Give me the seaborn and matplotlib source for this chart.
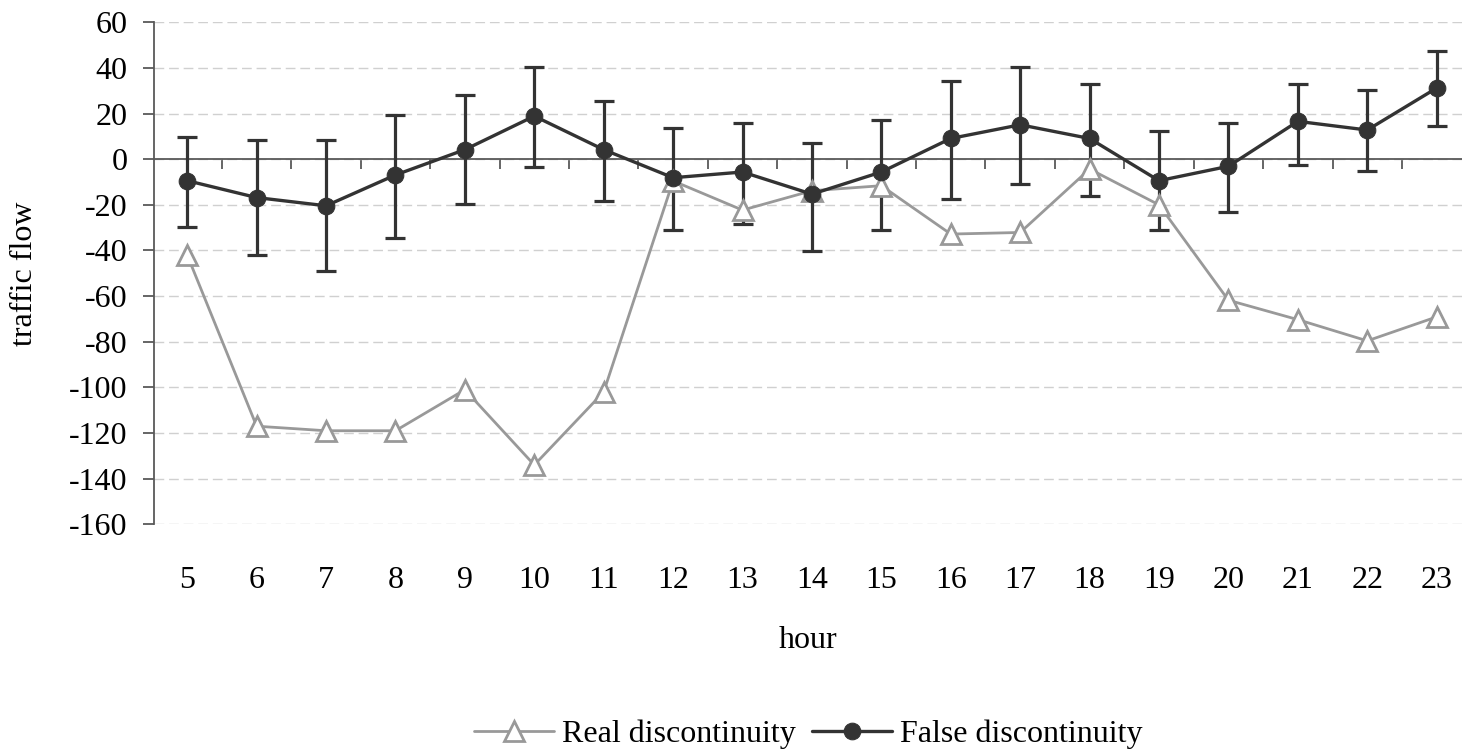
import numpy as np
import pandas as pd
import seaborn as sns
import matplotlib.pyplot as plt

# data
hours = list(range(5, 24))
real_disc = [-42, -117, -119, -119, -101, -134, -102, -9.5, -22.3, -13.8, -11.6,
             -32.8, -32.1, -4.3, -20, -61.8, -70.3, -79.6, -69.1]
false_disc = [-9.4, -16.8, -20.4, -6.9, 4.2, 18.9, 4.2, -8.1, -5.6, -15.3, -5.6,
              9.1, 15.1, 9.1, -9.4, -3.1, 16.6, 12.8, 31.2]
false_hi = [9.7, 8.4, 8.4, 19.5, 28, 40.3, 25.7, 13.5, 15.9, 7.2, 17.2,
            34.3, 40.4, 33, 12.2, 15.9, 33, 30.5, 47.6]
false_lo = [-29.5, -41.8, -49.2, -34.4, -19.5, -3.6, -18.5, -30.8, -28.3, -40.4, -30.8,
            -17.3, -11, -16, -30.8, -23.3, -2.5, -5, 14.6]
y_ticks = list(range(-160, 61, 20))

df = pd.DataFrame({'hour': hours, 'real': real_disc, 'false': false_disc,
                   'hi': false_hi, 'lo': false_lo})

sns.set_theme(style='white')
fs = 23
plt.rcParams['font.family'] = ['Liberation Serif', 'DejaVu Serif']
plt.rcParams.update({'font.size': fs, 'axes.labelsize': fs, 'xtick.labelsize': fs,
                     'ytick.labelsize': fs, 'legend.fontsize': fs,
                     'text.color': 'black', 'axes.labelcolor': 'black',
                     'xtick.color': 'black', 'ytick.color': 'black'})

fig = plt.figure(figsize=(14.62, 7.52), dpi=100)
ax = fig.add_axes([0.1055, 0.3028, 0.8945, 0.6675])

dark = '#333333'
gray = '#999999'
axis_c = '#595959'

# error bars first so the markers sit on top
ax.errorbar(df['hour'], df['false'],
            yerr=[df['false'] - df['lo'], df['hi'] - df['false']],
            fmt='none', ecolor=dark, elinewidth=2.3, capsize=7.5, capthick=2.3, zorder=2)

sns.lineplot(data=df, x='hour', y='real', ax=ax, color=gray, linewidth=2.0,
             marker='^', markersize=14, markerfacecolor='white', markeredgecolor=gray,
             markeredgewidth=2, label='Real discontinuity', zorder=3)
sns.lineplot(data=df, x='hour', y='false', ax=ax, color=dark, linewidth=2.4,
             marker='o', markersize=12, markerfacecolor=dark, markeredgecolor=dark,
             label='False discontinuity', zorder=4)

ax.set_ylim(-160, 60)
ax.set_xlim(hours[0] - 0.475, hours[-1] + 0.365)
ax.set_yticks(y_ticks)
ax.set_yticklabels([str(v) for v in y_ticks])
ax.yaxis.grid(True, linestyle=(0, (7, 3.5)), color='#d0d0d0', linewidth=1.0)
ax.set_axisbelow(True)

for s in ['top', 'right']:
    ax.spines[s].set_visible(False)
ax.spines['left'].set_color(axis_c)
ax.spines['left'].set_linewidth(1.3)
ax.spines['bottom'].set_position(('data', 0))
ax.spines['bottom'].set_color(axis_c)
ax.spines['bottom'].set_linewidth(1.3)
ax.spines['bottom'].set_zorder(1.5)

ax.tick_params(axis='y', direction='out', length=8, width=1.3, color=axis_c, pad=11,
               left=True, labelcolor='black')
ax.set_xticks(hours)
ax.set_xticks([h + 0.5 for h in hours[:-1]], minor=True)
ax.tick_params(axis='x', which='major', length=0, labelbottom=False)
ax.tick_params(axis='x', which='minor', direction='out', length=7.5, width=1.3,
               color=axis_c, bottom=True)

# hour labels at the bottom of the plot area
sec = ax.secondary_xaxis('bottom')
sec.set_xticks(hours)
sec.set_xticklabels([str(h) for h in hours])
sec.tick_params(length=0, pad=30, labelsize=fs, labelcolor='black')
sec.spines['bottom'].set_visible(False)
sec.set_xlabel('hour', labelpad=22, fontsize=fs, color='black')

ax.set_xlabel('')
ax.set_ylabel('traffic flow', labelpad=22, fontsize=fs, color='black')

leg = ax.legend(loc='center', bbox_to_anchor=(0.5, -0.418), ncol=2, frameon=False,
                handlelength=2.5, handletextpad=0.25, columnspacing=0.5, fontsize=fs)
for t in leg.get_texts():
    t.set_color('black')

fig.savefig('out.png', dpi=100)
